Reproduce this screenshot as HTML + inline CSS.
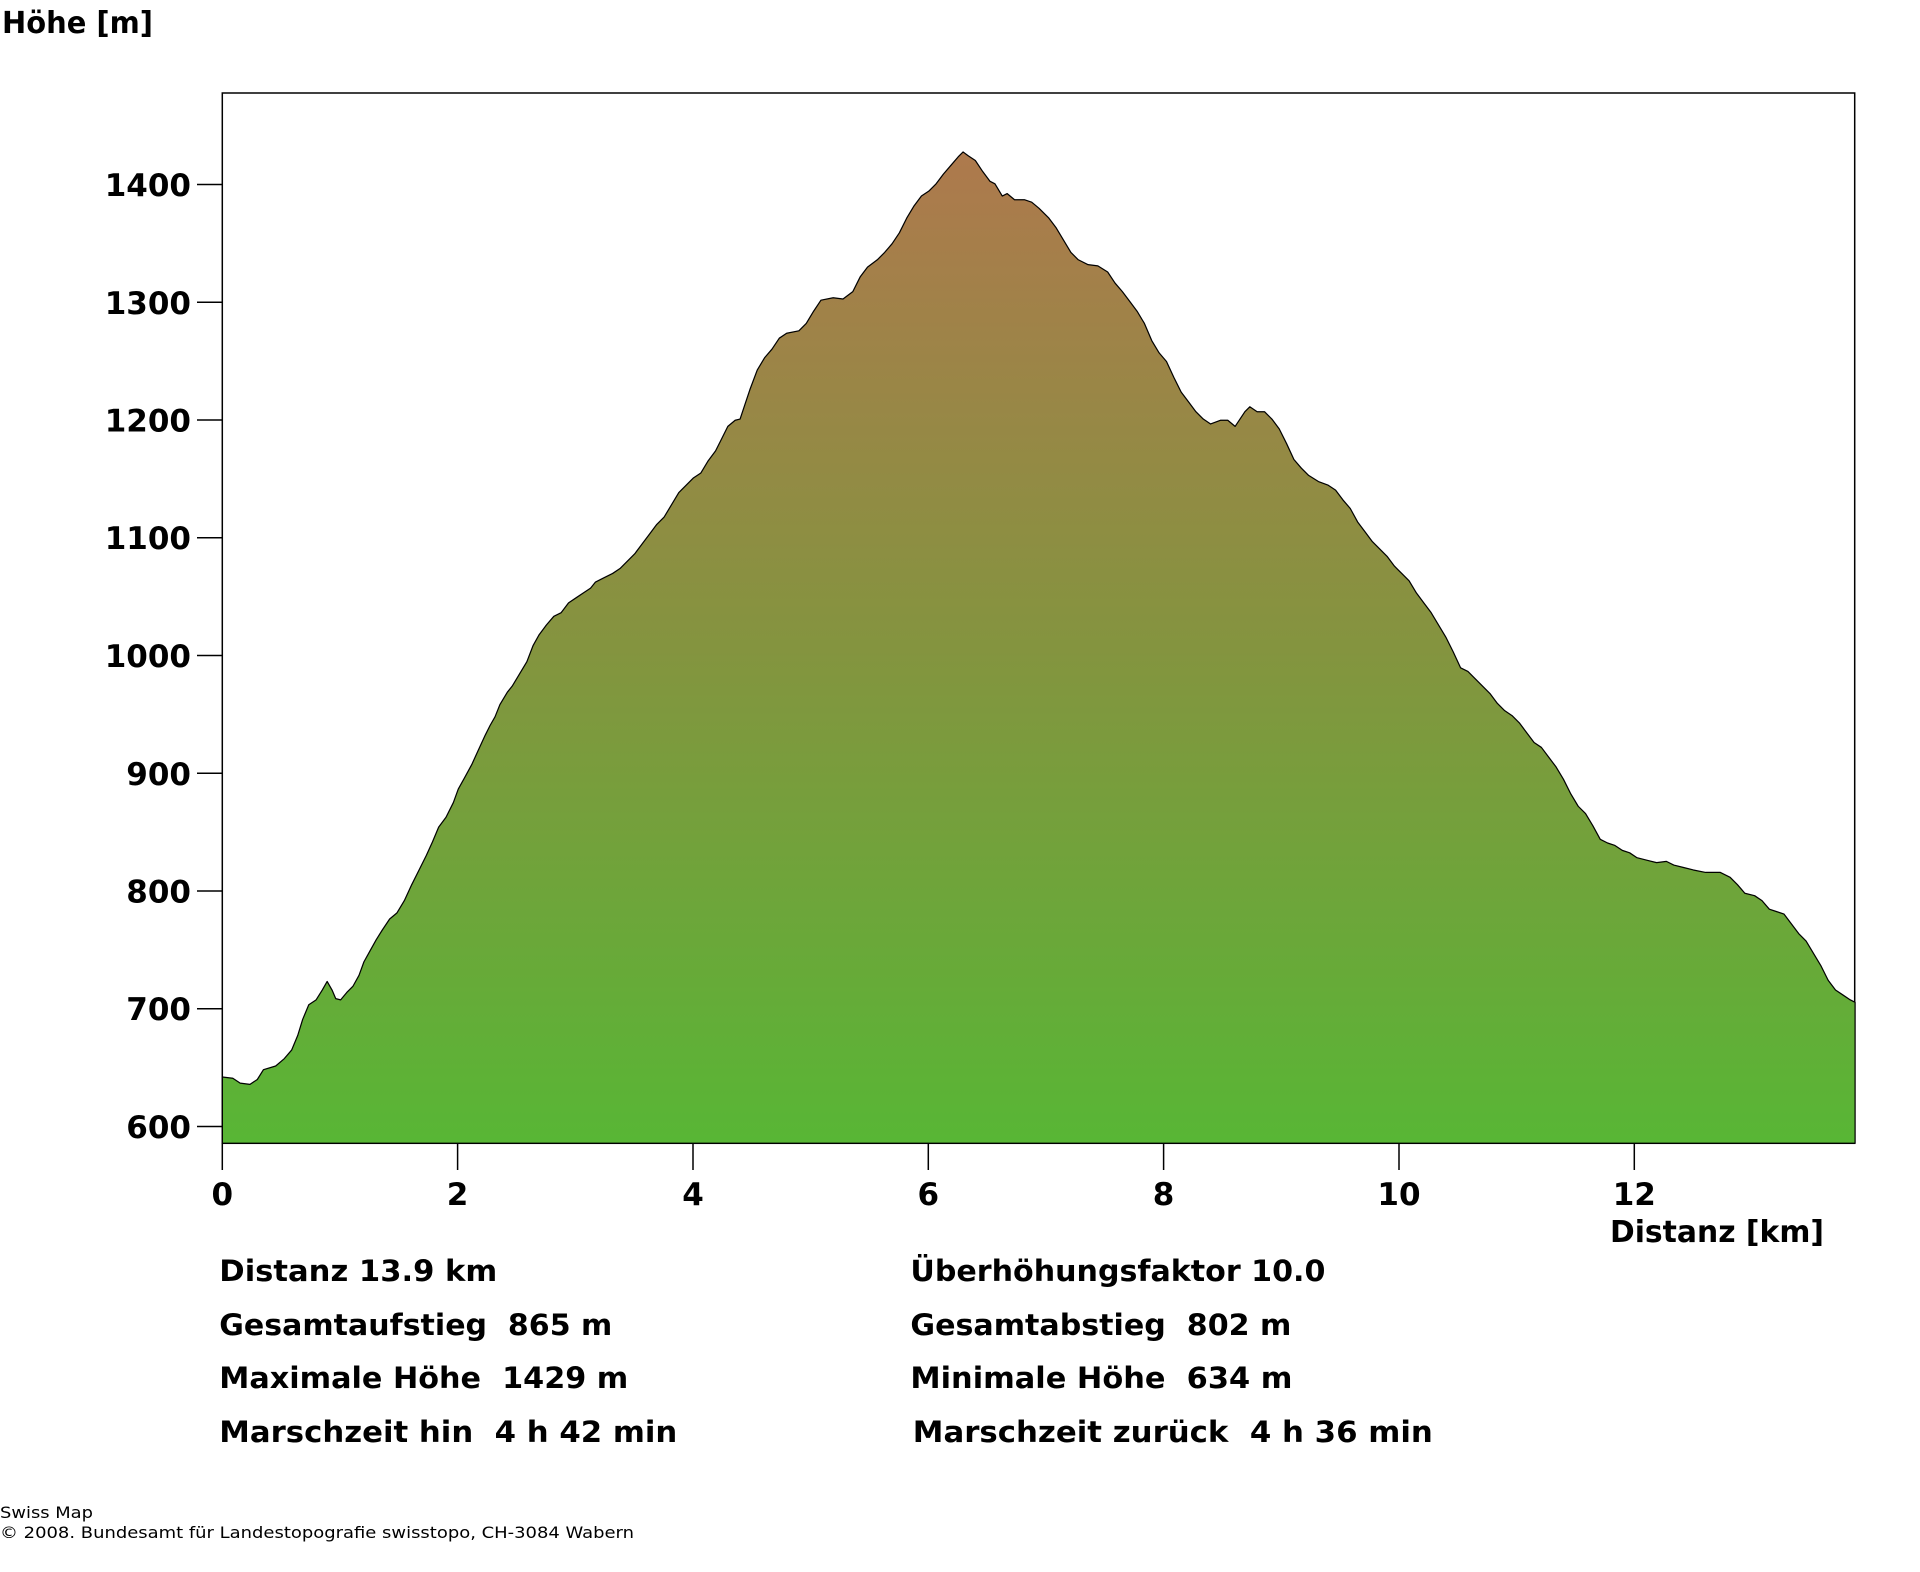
<!DOCTYPE html>
<html><head><meta charset="utf-8"><style>
html,body{margin:0;padding:0;background:#fff;}
svg{display:block;}
text{font-family:"DejaVu Sans","Liberation Sans",sans-serif;fill:#000;white-space:pre;}
.b{font-weight:bold;}
</style></head><body>
<svg width="1920" height="1572" viewBox="0 0 1920 1572" xmlns="http://www.w3.org/2000/svg" xml:space="preserve">
<defs>
<linearGradient id="g" gradientUnits="userSpaceOnUse" x1="0" y1="122" x2="0" y2="933">
<stop offset="0" stop-color="#ae794d"/>
<stop offset="0.5" stop-color="#84943f"/>
<stop offset="1" stop-color="#58b635"/>
</linearGradient>
</defs>
<rect x="222.3" y="93" width="1632.4" height="1050.3" fill="none" stroke="#000" stroke-width="1.5"/>
<g transform="scale(1.2253)">
<path fill="url(#g)" stroke="#000" stroke-width="1" stroke-linejoin="round" d="M181.5,879 L190,880 196,884 204,885 210,881 215,873 225,870 232,864 238,857 243,845 247,832 252,820 258,816 263,808 267,801 271,808 274,815 278,816 283,810 288,805 293,796 297,785 302,776 307,767 312,759 318,750 324,745 330,735 336,722 342,710 348,698 353,687 358,675 364,667 370,655 374,644 379,635 385,624 390,613 396,600 400,592 404,585 408,575 414,565 418,560 424,550 430,540 435,527 440,518 446,510 452,503 458,500 464,492 470,488 476,484 482,480 486,475 492,472 500,468 506,464 512,458 518,452 524,444 530,436 536,428 542,422 548,412 554,402 560,396 566,390 572,386 578,376 584,368 588,360 594,348 600,343 604,342 608,330 612,318 618,302 624,292 630,285 636,276 642,272 652,270 658,264 664,254 670,245 680,243 688,244 696,238 702,226 708,218 716,212 722,206 728,199 734,190 740,178 746,168 752,160 758,156 764,150 770,142 776,135 782,128 786,124 790,127 796,131 802,140 808,148 812,150 818,160 822,158 828,163 836,163 842,165 848,170 856,178 862,186 868,196 874,206 880,212 888,216 896,217 904,222 910,231 916,238 922,246 928,254 934,264 940,278 946,288 952,295 958,308 964,320 970,328 976,336 982,342 988,346 996,343 1002,343 1008,348 1012,342 1016,336 1020,332 1026,336 1032,336 1038,342 1044,350 1050,362 1056,375 1062,382 1068,388 1076,393 1084,396 1090,400 1096,408 1102,415 1108,426 1114,434 1120,442 1126,448 1132,454 1138,462 1144,468 1150,474 1156,484 1162,492 1168,500 1174,510 1180,520 1186,532 1192,545 1198,548 1204,554 1210,560 1216,566 1222,574 1228,580 1234,584 1240,590 1246,598 1252,606 1258,610 1264,618 1270,626 1276,636 1282,648 1288,658 1294,664 1300,674 1306,685 1312,688 1318,690 1324,694 1330,696 1336,700 1344,702 1352,704 1360,703 1366,706 1374,708 1382,710 1392,712 1404,712 1412,716 1418,722 1424,729 1432,731 1438,735 1444,742 1450,744 1456,746 1462,754 1468,762 1474,768 1480,778 1486,788 1492,800 1498,808 1504,812 1510,816 1514,818 L1514,933 L181.5,933 Z"/>
</g>
<g stroke="#000" stroke-width="1.5">
<line x1="197" y1="1126.5" x2="222" y2="1126.5"/>
<line x1="197" y1="1008.8" x2="222" y2="1008.8"/>
<line x1="197" y1="891" x2="222" y2="891"/>
<line x1="197" y1="773.3" x2="222" y2="773.3"/>
<line x1="197" y1="655.5" x2="222" y2="655.5"/>
<line x1="197" y1="537.8" x2="222" y2="537.8"/>
<line x1="197" y1="420" x2="222" y2="420"/>
<line x1="197" y1="302.3" x2="222" y2="302.3"/>
<line x1="197" y1="184.5" x2="222" y2="184.5"/>
<line x1="222.3" y1="1143" x2="222.3" y2="1170"/>
<line x1="457.6" y1="1143" x2="457.6" y2="1170"/>
<line x1="693" y1="1143" x2="693" y2="1170"/>
<line x1="928.3" y1="1143" x2="928.3" y2="1170"/>
<line x1="1163.6" y1="1143" x2="1163.6" y2="1170"/>
<line x1="1399" y1="1143" x2="1399" y2="1170"/>
<line x1="1634.3" y1="1143" x2="1634.3" y2="1170"/>
</g>
<g class="b" font-size="31" text-anchor="end">
<text x="191" y="1138">600</text>
<text x="191" y="1020">700</text>
<text x="191" y="902.5">800</text>
<text x="191" y="785">900</text>
<text x="191" y="667">1000</text>
<text x="191" y="549">1100</text>
<text x="191" y="431.5">1200</text>
<text x="191" y="314">1300</text>
<text x="191" y="196">1400</text>
</g>
<g class="b" font-size="31" text-anchor="middle">
<text x="222.3" y="1205">0</text>
<text x="457.6" y="1205">2</text>
<text x="693" y="1205">4</text>
<text x="928.3" y="1205">6</text>
<text x="1163.6" y="1205">8</text>
<text x="1399" y="1205">10</text>
<text x="1634.3" y="1205">12</text>
</g>
<text class="b" x="2" y="33" font-size="30" textLength="151" lengthAdjust="spacingAndGlyphs">Höhe [m]</text>
<text class="b" x="1610" y="1242" font-size="30" textLength="214" lengthAdjust="spacingAndGlyphs">Distanz [km]</text>
<g class="b" font-size="29">
<text x="219.3" y="1281" textLength="278" lengthAdjust="spacingAndGlyphs">Distanz 13.9 km</text>
<text x="219.3" y="1335" textLength="393" lengthAdjust="spacingAndGlyphs">Gesamtaufstieg  865 m</text>
<text x="219.3" y="1388" textLength="409" lengthAdjust="spacingAndGlyphs">Maximale Höhe  1429 m</text>
<text x="219.3" y="1442" textLength="458" lengthAdjust="spacingAndGlyphs">Marschzeit hin  4 h 42 min</text>
<text x="910.4" y="1281" textLength="415" lengthAdjust="spacingAndGlyphs">Überhöhungsfaktor 10.0</text>
<text x="910.4" y="1335" textLength="381" lengthAdjust="spacingAndGlyphs">Gesamtabstieg  802 m</text>
<text x="910.4" y="1388" textLength="382" lengthAdjust="spacingAndGlyphs">Minimale Höhe  634 m</text>
<text x="912.8" y="1442" textLength="520" lengthAdjust="spacingAndGlyphs">Marschzeit zurück  4 h 36 min</text>
</g>
<text x="0" y="1518" font-size="16" textLength="93" lengthAdjust="spacingAndGlyphs">Swiss Map</text>
<text x="0" y="1538" font-size="16" textLength="634" lengthAdjust="spacingAndGlyphs">© 2008. Bundesamt für Landestopografie swisstopo, CH-3084 Wabern</text>
</svg>
</body></html>
